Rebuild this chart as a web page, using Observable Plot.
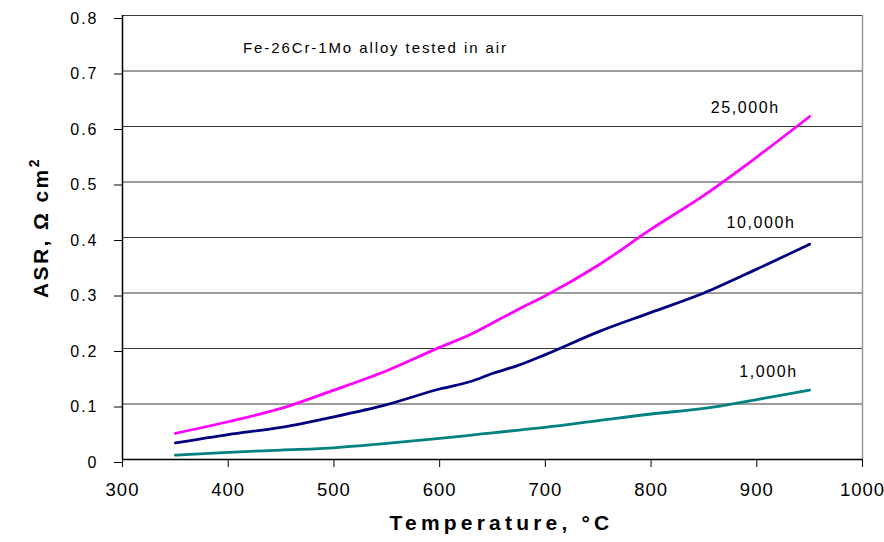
<!DOCTYPE html>
<html>
<head>
<meta charset="utf-8">
<script src="https://cdn.jsdelivr.net/npm/d3@7"></script>
<script src="https://cdn.jsdelivr.net/npm/@observablehq/plot@0.6"></script>
<style>
  html, body { margin: 0; padding: 0; background: #fff; }
  #chart svg { display: block; }
</style>
</head>
<body>
<div id="chart"></div>
<script>
// Area-specific resistance of Fe-26Cr-1Mo in air vs. temperature, by exposure time
const temps = [350, 400, 450, 500, 550, 600, 630, 650, 675, 700, 750, 800, 850, 900, 950];
const asr25000h = [0.047, 0.068, 0.092, 0.125, 0.160, 0.202, 0.226, 0.246, 0.271, 0.295, 0.350, 0.415, 0.476, 0.545, 0.618];
const asr10000h = [0.030, 0.045, 0.058, 0.077, 0.099, 0.127, 0.141, 0.155, 0.170, 0.189, 0.230, 0.265, 0.300, 0.343, 0.388];
const asr1000h  = [0.008, 0.013, 0.017, 0.021, 0.029, 0.038, 0.044, 0.048, 0.053, 0.058, 0.070, 0.082, 0.092, 0.108, 0.125];

const seriesNames = ["25,000h", "10,000h", "1,000h"];
const seriesColors = ["#ff00ff", "#000080", "#008080"];

// Series labels placed near the line ends
const labelTemps  = [889, 904, 911];
const labelValues = [0.634, 0.426, 0.157];

const note = "Fe-26Cr-1Mo alloy tested in air";
const noteTemp = 414;
const noteValue = 0.741;

const xTicks = [300, 400, 500, 600, 700, 800, 900, 1000];
const yTicks = [0, 0.1, 0.2, 0.3, 0.4, 0.5, 0.6, 0.7, 0.8];

const xTitle = "Temperature, °C";
const yTitle = "ASR, Ω cm";

const seriesValues = [asr25000h, asr10000h, asr1000h];
const rows = seriesNames.flatMap((name, i) =>
  temps.map((t, j) => ({series: name, temp: t, asr: seriesValues[i][j]}))
);
const labels = seriesNames.map((name, i) => ({name, temp: labelTemps[i], asr: labelValues[i]}));

const fmtX = d => String(d);
const fmtY = d => d === 0 ? "0" : d.toFixed(1);

const plot = Plot.plot({
  width: 884,
  height: 542,
  marginLeft: 122,
  marginRight: 22,
  marginTop: 15,
  marginBottom: 83,
  style: {fontFamily: "'Liberation Sans', Arial, sans-serif", background: "#fff", color: "#000"},
  x: {domain: [300, 1000]},
  y: {domain: [0, 0.8]},
  color: {domain: seriesNames, range: seriesColors},
  marks: [
    Plot.ruleY(yTicks.filter(d => d > 0), {stroke: "#3a3a3a", strokeWidth: 1}),
    Plot.ruleX([1000], {stroke: "#999", strokeWidth: 1.5}),
    Plot.axisX({ticks: xTicks, tickSize: 8, tickPadding: 15, fontSize: 18.5, label: null, tickFormat: fmtX}),
    Plot.axisY({ticks: yTicks, tickSize: 8, tickPadding: 16, fontSize: 16, dy: 3, label: null, tickFormat: fmtY}),
    Plot.ruleX([300], {stroke: "#000", strokeWidth: 1.5}),
    Plot.ruleY([0], {stroke: "#000", strokeWidth: 1.5}),
    Plot.line(rows, {x: "temp", y: "asr", z: "series", stroke: "series", strokeWidth: 2.8, curve: "monotone-x"}),
    Plot.text(labels, {x: "temp", y: "asr", text: "name", fontSize: 16, fill: "#000"}),
    Plot.text([note], {x: noteTemp, y: noteValue, textAnchor: "start", fontSize: 15, fill: "#000"})
  ]
});

const svg = d3.select(plot);

// Letter spacing by text content
const xTickText = xTicks.map(fmtX);
const yTickText = yTicks.map(fmtY);
svg.selectAll("text").each(function() {
  const t = this.textContent;
  let ls = null;
  if (t === note) ls = 1.9;
  else if (seriesNames.includes(t)) ls = 1.6;
  else if (xTickText.includes(t)) ls = 1;
  else if (yTickText.includes(t)) ls = 2;
  if (ls !== null) this.style.letterSpacing = ls + "px";
});

const xs = plot.scale("x"), ys = plot.scale("y");

// Axis titles
svg.append("text")
  .attr("x", xs.apply(659))
  .attr("y", 530)
  .attr("text-anchor", "middle")
  .attr("font-size", 21)
  .attr("font-weight", "bold")
  .style("letter-spacing", "4.2px")
  .attr("fill", "#000")
  .text(xTitle);

const yt = svg.append("text")
  .attr("transform", `translate(48,${ys.apply(0.417)}) rotate(-90)`)
  .attr("text-anchor", "middle")
  .attr("font-size", 21)
  .attr("font-weight", "bold")
  .style("letter-spacing", "2.4px")
  .attr("fill", "#000");
yt.append("tspan").text(yTitle);
yt.append("tspan").attr("font-size", 14).attr("dy", -9).text("2");

document.getElementById("chart").appendChild(plot);
</script>
</body>
</html>
